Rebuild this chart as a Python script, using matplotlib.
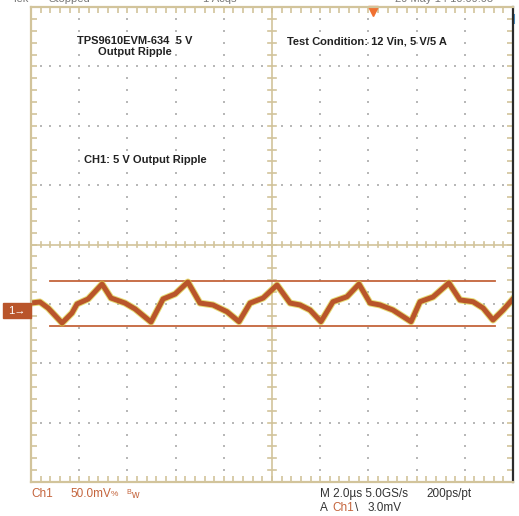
import matplotlib
matplotlib.use("Agg")
import matplotlib.pyplot as plt
import numpy as np

# ripple trace: time (us) and voltage (mV, relative to CH1 ground marker)
time_us = [0.0, 0.37, 0.71, 1.29, 1.70, 1.91, 2.37, 2.95, 3.32, 3.90, 4.32, 4.98,
           5.48, 5.98, 6.51, 7.01, 7.55, 8.13, 8.63, 9.09, 9.63, 10.21, 10.75, 11.16,
           11.58, 12.03, 12.53, 13.11, 13.61, 14.07, 14.48, 15.02, 15.77, 16.14, 16.68,
           17.34, 17.80, 18.34, 18.76, 19.17, 19.59, 19.96]
ripple_mv = [6.7, 7.6, 2.5, -10.1, -1.7, 5.9, 10.1, 22.7, 10.9, 6.7, 1.7, -9.3,
             10.1, 14.3, 24.4, 6.7, 5.1, -0.6, -9.0, 6.7, 10.9, 21.9, 6.7, 5.1,
             0.8, -9.0, 7.8, 12.0, 22.7, 6.7, 5.1, 0.8, -9.0, 7.8, 11.8,
             23.6, 9.3, 7.8, 2.5, -7.6, 0.8, 9.3]

cursor_mv = [25.3, -12.6]
cursor_span_us = [0.79, 19.25]

volts_per_div = 50.0   # mV/div
time_per_div = 2.0     # us/div
ch1_offset_div = -1.12
trigger_us = 14.2

tan = "#d2c49b"
orange = "#b9552b"
label_orange = "#c4643c"

fig = plt.figure(figsize=(5.19, 5.16), dpi=100)
ax = fig.add_axes([31 / 519, 34 / 516, 482 / 519, 475 / 516])
ax.set_xlim(0, 10)
ax.set_ylim(-4, 4)

# graticule
for s in ["left", "top", "bottom"]:
    ax.spines[s].set_color(tan)
    ax.spines[s].set_linewidth(1.6)
ax.spines["right"].set_color("#2b2b2b")
ax.spines["right"].set_linewidth(1.6)
ax.set_xticks(np.arange(0, 10.01, 0.2))
ax.set_yticks(np.arange(-4, 4.01, 0.2))
ax.tick_params(which="both", direction="in", length=4, width=1.2, color=tan,
               top=True, right=True, labelbottom=False, labelleft=False)

# dotted grid along major divisions
minor_x = np.arange(0, 10.01, 0.2)
minor_y = np.arange(-4, 4.01, 0.2)
for gy in range(-3, 4):
    if gy != 0:
        ax.scatter(minor_x, np.full_like(minor_x, gy), s=1.3, marker="s", color="#b8b8b8", lw=0)
for gx in range(1, 10):
    if gx != 5:
        ax.scatter(np.full_like(minor_y, gx), minor_y, s=1.3, marker="s", color="#b8b8b8", lw=0)

# center cross with ticks
ax.axhline(0, color=tan, lw=1.2)
ax.axvline(5, color=tan, lw=1.2)
for mx in minor_x:
    ax.plot([mx, mx], [-0.05, 0.05], color=tan, lw=1.2)
for my in minor_y:
    ax.plot([4.91, 5.09], [my, my], color=tan, lw=1.2)

# blue marker on right edge
ax.plot([10, 10], [3.75, 3.87], color="#4a90c8", lw=2.2, clip_on=False)

# trigger position marker
ax.plot(trigger_us / time_per_div, 3.93, marker="v", color="#f07030", ms=7, clip_on=False)

# cursors
for c in cursor_mv:
    cy = ch1_offset_div + c / volts_per_div
    ax.plot([v / time_per_div for v in cursor_span_us], [cy, cy], color=label_orange, lw=1.3)

# trace
tx = [t / time_per_div for t in time_us]
ty = [ch1_offset_div + v / volts_per_div for v in ripple_mv]
ax.plot(tx, ty, color="#d9cc3a", lw=5.0, alpha=0.7, solid_joinstyle="round")
ax.plot(tx, ty, color=orange, lw=3.6, solid_joinstyle="round")

# CH1 ground marker
fig.patches.append(plt.Rectangle((3 / 519, 1 - 318 / 516), 28 / 519, 15 / 516,
                                 transform=fig.transFigure, color=orange))
fig.text(17 / 519, 1 - 311 / 516, "1→", color="white", fontsize=8,
         ha="center", va="center", family=["Liberation Sans", "DejaVu Sans"])

# annotations
bold = dict(fontsize=8, fontweight="bold", family="Liberation Sans", color="#222222")
fig.text(135 / 519, 1 - 41 / 516, "TPS9610EVM-634  5 V", ha="center", va="center", **bold)
fig.text(135 / 519, 1 - 52 / 516, "Output Ripple", ha="center", va="center", **bold)
fig.text(287 / 519, 1 - 41 / 516, "Test Condition: 12 Vin, 5 V/5 A", ha="left", va="center", **bold)
fig.text(84 / 519, 1 - 160 / 516, "CH1: 5 V Output Ripple", ha="left", va="center", **bold)

# scope readouts
narrow = ["Liberation Sans", "DejaVu Sans"]
fig.text(31 / 519, 1 - 494 / 516, "Ch1", color=label_orange, fontsize=8.5, va="center", family=narrow)
fig.text(70 / 519, 1 - 494 / 516, "50.0mV", color=label_orange, fontsize=8.5, va="center", family=narrow)
fig.text(111 / 519, 1 - 494 / 516, "%", color=label_orange, fontsize=6, va="center", family=narrow)
fig.text(126 / 519, 1 - 494 / 516, "$^{\\mathregular{B}}$w", color=label_orange, fontsize=7.5, va="center", family=narrow)
fig.text(320 / 519, 1 - 494 / 516, "M 2.0µs 5.0GS/s", color="#333333", fontsize=8.5, va="center", family=narrow)
fig.text(426 / 519, 1 - 494 / 516, "200ps/pt", color="#333333", fontsize=8.5, va="center", family=narrow)
fig.text(320 / 519, 1 - 508 / 516, "A", color="#333333", fontsize=8.5, va="center", family=narrow)
fig.text(332 / 519, 1 - 508 / 516, "Ch1", color=label_orange, fontsize=8.5, va="center", family=narrow)
fig.text(355 / 519, 1 - 508 / 516, "\\", color="#333333", fontsize=8.5, va="center", family=narrow)
fig.text(368 / 519, 1 - 508 / 516, "3.0mV", color="#333333", fontsize=8.5, va="center", family=narrow)

# top status line, cut off by the frame edge
for xp, s in [(12, "Tek"), (48, "Stopped"), (203, "1 Acqs"), (395, "29 May 14 10:09:03")]:
    fig.text(xp / 519, 1 - 2 / 516, s, color="#777777", fontsize=8, va="baseline", family=narrow)

fig.savefig("out.png", dpi=100, facecolor="white")
